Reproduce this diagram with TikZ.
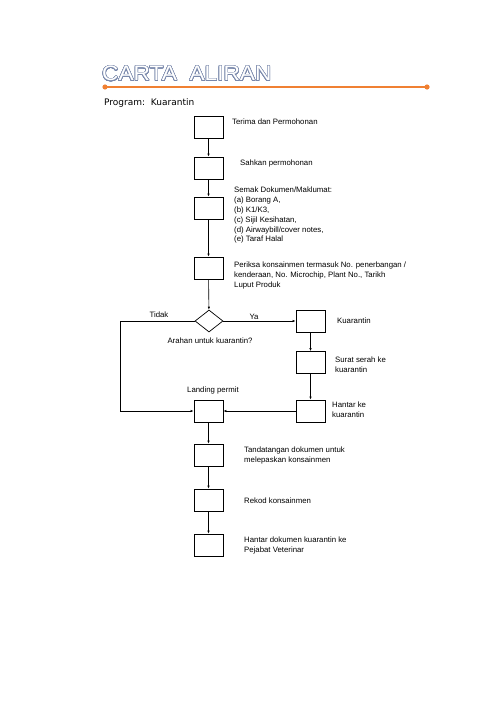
\documentclass[tikz,border=0pt]{standalone}
\usepackage{fontspec}
\setmainfont{Liberation Sans}
\newfontfamily\progfont{DejaVu Sans}
\newfontfamily\titlefont[FakeStretch=1.08]{Liberation Sans}
\usepackage{contour}
\contourlength{0.55pt}
\contournumber{32}
\usetikzlibrary{arrows.meta,shapes.geometric}

\definecolor{titleblue}{RGB}{120,135,170}
\definecolor{lineorange}{RGB}{240,128,50}

\begin{document}
\begin{tikzpicture}[
    x=1pt, y=-1pt,
    box/.style={
        draw,
        line width=0.7pt,
        minimum width=29pt,
        minimum height=22pt,
        inner sep=0pt
    },
    decision/.style={
        draw,
        diamond,
        line width=0.7pt,
        aspect=1.3,
        minimum width=28pt,
        minimum height=22pt,
        inner sep=0pt
    },
    label/.style={
        anchor=west,
        align=left,
        inner sep=0pt,
        font=\fontsize{7.8}{9.8}\selectfont
    },
    flow/.style={-{Latex[length=3pt,width=2.4pt]},line width=0.6pt}
]
\useasboundingbox (0,0) rectangle (500,707);

% heading
\node[anchor=west,inner sep=0pt,font=\titlefont\fontsize{21}{21}\selectfont] (title)
    at (102,74) {\contour{titleblue}{\textcolor{white}{CARTA\ \ ALIRAN}}};
\draw[lineorange,line width=1.2pt] (105,87) -- (427,87);
\fill[lineorange] (105,87) circle (2.6);
\fill[lineorange] (427,87) circle (2.6);
\node[anchor=west,inner sep=0pt,font=\progfont\fontsize{9}{11}\selectfont] (program)
    at (104,103) {Program:\ \ Kuarantin};

% main column
\node[box] (terima) at (208.5,127) {};
\node[box] (sahkan) at (208.5,168) {};
\node[box] (semak) at (208.5,208) {};
\node[box] (periksa) at (208.5,268) {};
\node[decision] (arahan) at (209,321) {};
\node[box] (landing) at (208.5,411) {};
\node[box] (tanda) at (208.5,455) {};
\node[box] (rekod) at (208.5,500) {};
\node[box] (hantardok) at (208.5,545) {};

% quarantine branch
\node[box] (kuarantin) at (310.5,321) {};
\node[box] (surat) at (310.5,362.5) {};
\node[box] (hantar) at (310.5,411) {};

% texts
\node[label] (tterima) at (232,122) {Terima dan Permohonan};
\node[label] (tsahkan) at (240,163) {Sahkan permohonan};
\node[label,anchor=north west] (tsemak) at (234,187) {Semak Dokumen/Maklumat:\\
    (a) Borang A,\\
    (b) K1/K3,\\
    (c) Sijil Kesihatan,\\
    (d) Airwaybill/cover notes,\\
    (e) Taraf Halal};
\node[label,anchor=north west] (tperiksa) at (234,262) {Periksa konsainmen termasuk No. penerbangan /\\
    kenderaan, No. Microchip, Plant No., Tarikh\\
    Luput Produk};
\node[label,anchor=center] (tarahan) at (210,341) {Arahan untuk kuarantin?};
\node[label,anchor=center] (ttidak) at (159,315) {Tidak};
\node[label,anchor=center] (tya) at (254,317) {Ya};
\node[label] (tkuarantin) at (337,321) {Kuarantin};
\node[label] (tsurat) at (335,365) {Surat serah ke\\kuarantin};
\node[label] (thantar) at (332,410) {Hantar ke\\kuarantin};
\node[label,anchor=center] (tlanding) at (213,390) {Landing permit};
\node[label] (ttanda) at (244,455.5) {Tandatangan dokumen untuk\\melepaskan konsainmen};
\node[label] (trekod) at (244,501) {Rekod konsainmen};
\node[label] (thantardok) at (244,545.5) {Hantar dokumen kuarantin ke\\Pejabat Veterinar};

\coordinate (tidaktop) at (120,321);
\coordinate (tidakbot) at (120,411);

% connectors
\draw[flow] (terima) -- (sahkan);
\draw[flow] (sahkan) -- (semak);
\draw[flow] (semak) -- (periksa);
\draw[flow] (periksa) -- (arahan);
\draw[flow] (arahan) -- (kuarantin);
\draw[flow] (arahan.west) -- (tidaktop) -- (tidakbot) -- (landing);
\draw[flow] (kuarantin) -- (surat);
\draw[flow] (surat) -- (hantar);
\draw[flow] (hantar) -- (landing);
\draw[flow] (landing) -- (tanda);
\draw[flow] (tanda) -- (rekod);
\draw[flow] (rekod) -- (hantardok);
\end{tikzpicture}
\end{document}
